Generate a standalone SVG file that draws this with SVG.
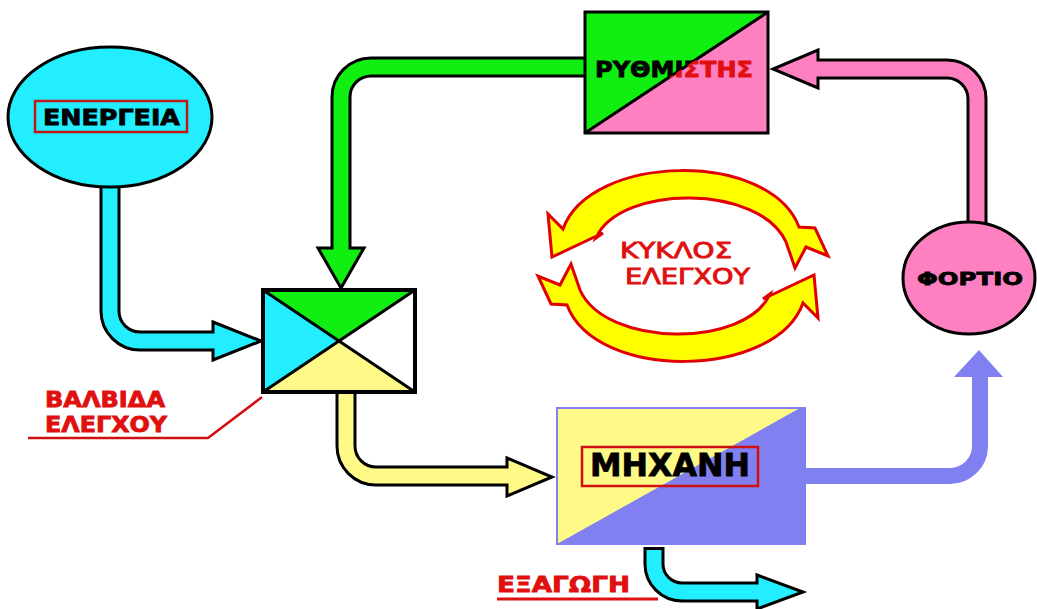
<svg xmlns="http://www.w3.org/2000/svg" width="1037" height="609" viewBox="0 0 1037 609">
<style>
.out{fill:none;stroke:#000;stroke-width:21}
.pipe{fill:none;stroke-width:15}
.head{stroke:#000;stroke-width:3;stroke-linejoin:miter}
.lbl{font-family:"DejaVu Sans","Liberation Sans",sans-serif;font-weight:bold;stroke-width:0.8}
.thin{font-weight:normal;stroke-width:0.9}
.red{fill:#E01010;stroke:#E01010}
.blk{fill:#000;stroke:#000}
.edge{stroke:#000;stroke-width:3}
.loop{fill:#FFFF00;stroke:#E00000;stroke-width:3;stroke-linejoin:miter}
</style>
<defs>
<clipPath id="cg"><polygon points="585,12 768,12 585,133"/></clipPath>
<clipPath id="cp"><polygon points="768,12 768,133 585,133"/></clipPath>
<path id="arc" d="M563,229 C590,153 770,150 799,227 L815,228 L828,256 L806,247 L795,268 L786,242 C760,184 620,184 596,238 L603,233 L552,257 L548,214 Z"/>
</defs>
<rect width="1037" height="609" fill="#fff"/>

<g id="connectors">
  <!-- energy to valve (cyan) -->
  <path class="out" d="M110,175 V311 A30,30 0 0 0 140,341 H215"/>
  <polygon class="head" fill="#22EEFF" points="213,322 261,341 213,360"/>
  <path class="pipe" stroke="#22EEFF" d="M110,175 V311 A30,30 0 0 0 140,341 H217"/>
  <!-- regulator to valve (green) -->
  <path class="out" d="M590,67 H371 A30,30 0 0 0 341,97 V250"/>
  <polygon class="head" fill="#11EE11" points="318,248 364,248 341,288"/>
  <path class="pipe" stroke="#11EE11" d="M590,67 H371 A30,30 0 0 0 341,97 V252"/>
  <!-- load to regulator (pink) -->
  <path class="out" d="M977,228 V99 A30,30 0 0 0 947,69 H816"/>
  <polygon class="head" fill="#FF80C0" points="818,50 818,88 773,69"/>
  <path class="pipe" stroke="#FF80C0" d="M977,228 V99 A30,30 0 0 0 947,69 H814"/>
  <!-- valve to engine (pale yellow) -->
  <path class="out" d="M346,390 V446 A30,30 0 0 0 376,476 H509"/>
  <polygon class="head" fill="#FFFA88" points="507,458 552,477 507,496"/>
  <path class="pipe" stroke="#FFFA88" d="M346,390 V446 A30,30 0 0 0 376,476 H511"/>
  <!-- engine to load (blue) -->
  <path fill="none" stroke="#8080F0" stroke-width="16" d="M803,476 H950 A30,30 0 0 0 980,446 V375"/>
  <polygon fill="#8080F0" points="954,377 1003,377 979,350"/>
  <!-- output (cyan) -->
  <path class="out" d="M654,547 V564 A28,28 0 0 0 682,592 H759"/>
  <polygon class="head" fill="#22EEFF" points="757,575 803,592 757,609"/>
  <path class="pipe" stroke="#22EEFF" d="M654,550 V564 A28,28 0 0 0 682,592 H761"/>
</g>

<g id="energy">
  <ellipse cx="110" cy="117" rx="102" ry="70" fill="#22EEFF" stroke="#000" stroke-width="3"/>
  <rect x="35" y="101" width="152" height="31" fill="none" stroke="#C01818" stroke-width="2.5"/>
  <text class="lbl blk" x="43" y="125" font-size="22" textLength="137" lengthAdjust="spacingAndGlyphs">ΕΝΕΡΓΕΙΑ</text>
</g>

<g id="valve">
  <rect x="263" y="290" width="152" height="102" fill="#fff"/>
  <polygon points="263,290 415,290 339,341" fill="#11EE11"/>
  <polygon points="263,290 339,341 263,392" fill="#22EEFF"/>
  <polygon points="263,392 339,341 415,392" fill="#FFFA88"/>
  <line class="edge" x1="263" y1="290" x2="415" y2="392"/>
  <line class="edge" x1="415" y1="290" x2="263" y2="392"/>
  <rect x="263" y="290" width="152" height="102" fill="none" stroke="#000" stroke-width="4"/>
</g>

<g id="valve-label">
  <text class="lbl red" x="45" y="407" font-size="21" textLength="120" lengthAdjust="spacingAndGlyphs">ΒΑΛΒΙΔΑ</text>
  <text class="lbl red" x="45" y="432" font-size="21" textLength="122" lengthAdjust="spacingAndGlyphs">ΕΛΕΓΧΟΥ</text>
  <polyline points="28,438 208,438 262,397" fill="none" stroke="#D01010" stroke-width="2.5"/>
</g>

<g id="regulator">
  <polygon points="585,12 768,12 585,133" fill="#11EE11"/>
  <polygon points="768,12 768,133 585,133" fill="#FF80C0"/>
  <line class="edge" x1="585" y1="133" x2="768" y2="12" stroke-width="2.5"/>
  <rect x="585" y="12" width="183" height="121" fill="none" stroke="#000" stroke-width="3"/>
  <text class="lbl blk" clip-path="url(#cg)" x="595" y="77" font-size="22" textLength="158" lengthAdjust="spacingAndGlyphs">ΡΥΘΜΙΣΤΗΣ</text>
  <text class="lbl red" clip-path="url(#cp)" x="595" y="77" font-size="22" textLength="158" lengthAdjust="spacingAndGlyphs">ΡΥΘΜΙΣΤΗΣ</text>
</g>

<g id="loop">
  <use href="#arc" class="loop"/>
  <use href="#arc" class="loop" transform="rotate(180 683 266)"/>
  <text class="lbl thin red" x="620" y="258" font-size="21" textLength="112" lengthAdjust="spacingAndGlyphs">ΚΥΚΛΟΣ</text>
  <text class="lbl thin red" x="625" y="284" font-size="21" textLength="125" lengthAdjust="spacingAndGlyphs">ΕΛΕΓΧΟΥ</text>
</g>

<g id="load">
  <ellipse cx="969" cy="278" rx="66" ry="56" fill="#FF80C0" stroke="#000" stroke-width="3"/>
  <text class="lbl blk" x="917" y="285" font-size="18" textLength="106" lengthAdjust="spacingAndGlyphs">ΦΟΡΤΙΟ</text>
</g>

<g id="engine">
  <rect x="557" y="408" width="248" height="136" fill="#8080F0"/>
  <polygon points="557,408 800,408 557,544" fill="#FFFA88"/>
  <rect x="557" y="408" width="248" height="136" fill="none" stroke="#8080F0" stroke-width="2"/>
  <rect x="582" y="447" width="176" height="39" fill="none" stroke="#D01010" stroke-width="2.5"/>
  <text class="lbl blk" x="590" y="476" font-size="31" textLength="160" lengthAdjust="spacingAndGlyphs">ΜΗΧΑΝΗ</text>
</g>

<g id="output-label">
  <text class="lbl red" x="497" y="592" font-size="21" textLength="133" lengthAdjust="spacingAndGlyphs">ΕΞΑΓΩΓΗ</text>
  <line x1="497" y1="599" x2="658" y2="599" stroke="#E01010" stroke-width="3"/>
</g>
</svg>
